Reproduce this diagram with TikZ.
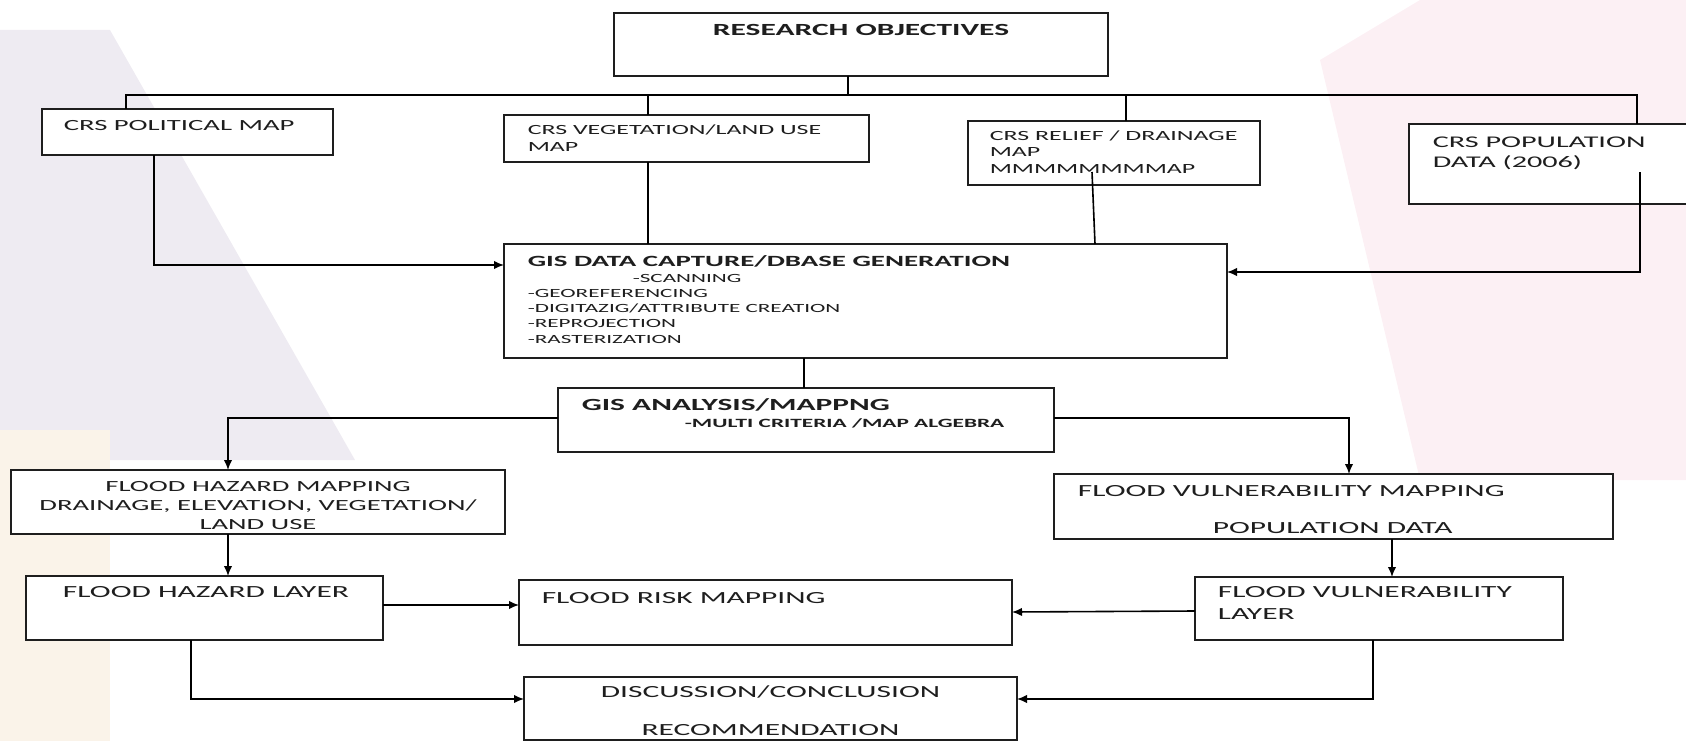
\documentclass[tikz,border=0pt]{standalone}
\usepackage{fontspec}
\usetikzlibrary{arrows.meta}
\setmainfont{Carlito}[FakeStretch=1.85]
\definecolor{ink}{RGB}{30,30,30}
\definecolor{haze}{RGB}{238,235,242}
\definecolor{blush}{RGB}{252,240,244}
\definecolor{sand}{RGB}{250,243,233}
\begin{document}
\begin{tikzpicture}[x=1pt,y=-1pt,line width=1.6pt,
  box/.style={draw=ink,fill=white,inner sep=0pt,outer sep=0pt},
  txt/.style={text=ink,inner sep=0pt,anchor=base west,align=left},
  head/.style={txt,font=\fontsize{17}{22}\selectfont},
  bold/.style={txt,font=\fontsize{17}{22}\selectfont\bfseries},
  body/.style={txt,font=\fontsize{15.5}{19}\selectfont},
  note/.style={txt,font=\fontsize{14}{16.5}\selectfont},
  item/.style={txt,font=\fontsize{12.5}{15.25}\selectfont},
  arr/.style={-{Latex[length=10pt,width=8.5pt]}}]

\clip (0,0) rectangle (1686,741);
\fill[haze] (0,30) -- (110,30) -- (355,460) -- (0,460) -- cycle;
\fill[blush] (1320,60) -- (1420,0) -- (1686,0) -- (1686,480) -- (1420,480) -- cycle;
\fill[sand] (0,430) -- (110,430) -- (110,741) -- (0,741) -- cycle;

\node[box,minimum width=494pt,minimum height=63pt] (res) at (861,44.5) {};
\node[bold,anchor=base] (res-t) at (861,35.5) {RESEARCH OBJECTIVES};

\node[box,minimum width=291pt,minimum height=46pt] (pol) at (187.5,132) {};
\node[body] (pol-t) at (63,131) {CRS POLITICAL MAP};
\node[box,minimum width=365pt,minimum height=47pt] (veg) at (686.5,138.5) {};
\node[note] (veg-t) at (527,151) {CRS VEGETATION/LAND USE\\MAP};
\node[box,minimum width=292pt,minimum height=64pt] (rel) at (1114,153) {};
\node[note] (rel-t) at (989,173.5) {CRS RELIEF / DRAINAGE\\MAP\\MMMMMMMMAP};
\node[box,minimum width=291pt,minimum height=80pt] (pop) at (1554.5,164) {};
\node[txt,font=\fontsize{16.3}{20}\selectfont] (pop-t) at (1432,167) {CRS POPULATION\\DATA (2006)};

\node[box,minimum width=723pt,minimum height=114pt] (gdc) at (865.5,301) {};
\node[txt,font=\fontsize{15.6}{18}\selectfont\bfseries] (gdc-t) at (527,266) {GIS DATA CAPTURE/DBASE GENERATION};
\node[item] (gdc-l) at (527,343) {\hspace*{105pt}-SCANNING\\-GEOREFERENCING\\-DIGITAZIG/ATTRIBUTE CREATION\\-REPROJECTION\\-RASTERIZATION};

\node[box,minimum width=496pt,minimum height=64pt] (gan) at (806,420) {};
\node[bold] (gan-t) at (581,410) {GIS ANALYSIS/MAPPNG};
\node[txt,font=\fontsize{12.6}{15}\selectfont\bfseries] (gan-s) at (684,427) {-MULTI CRITERIA /MAP ALGEBRA};

\node[box,minimum width=494pt,minimum height=64pt] (hzm) at (258,502) {};
\node[body,anchor=base,align=center] (hzm-t) at (258,529) {FLOOD HAZARD MAPPING\\DRAINAGE, ELEVATION, VEGETATION/\\LAND USE};
\node[box,minimum width=357pt,minimum height=64pt] (hzl) at (204.5,608) {};
\node[head,anchor=base] (hzl-t) at (206,597.5) {FLOOD HAZARD LAYER};
\node[box,minimum width=493pt,minimum height=65pt] (rsk) at (765.5,612.5) {};
\node[head] (rsk-t) at (541,603.5) {FLOOD RISK MAPPING};
\node[box,minimum width=559pt,minimum height=65pt] (vlm) at (1333.5,506.5) {};
\node[txt,font=\fontsize{17}{37}\selectfont] (vlm-t) at (1077,533.5) {FLOOD VULNERABILITY MAPPING\\\hspace*{135pt}POPULATION DATA};
\node[box,minimum width=368pt,minimum height=63pt] (vll) at (1379,608.5) {};
\node[head] (vll-t) at (1217,619.5) {FLOOD VULNERABILITY\\LAYER};
\node[box,minimum width=493pt,minimum height=63pt] (dis) at (770.5,708.5) {};
\node[txt,anchor=base,align=center,font=\fontsize{17}{38}\selectfont] (dis-t) at (770.5,735.5) {DISCUSSION/CONCLUSION\\RECOMMENDATION};

\coordinate (hub) at (848,95);
\coordinate (bl) at (126,95);
\coordinate (br) at (1637,95);
\coordinate (bv) at (648,95);
\coordinate (bd) at (1126,95);
\draw (hub |- res.south) -- (hub);
\draw (bl |- pol.north) -- (bl) -- (br) -- (br |- pop.north);
\draw (bv) -- (bv |- veg.north);
\draw (bd) -- (bd |- rel.north);

\draw[arr] (154,0 |- pol.south) |- (gdc.west |- 0,265);
\draw (648,0 |- veg.south) -- (648,0 |- gdc.north);
\draw ([shift={(-22,19)}]rel.center) -- (1095,0 |- gdc.north);
\draw[arr] ([shift={(85.5,8)}]pop.center) |- (gdc.east |- 0,272);
\draw (804,0 |- gdc.south) -- (804,0 |- gan.north);
\draw[arr] (gan.west |- 0,418) -| (228,0 |- hzm.north);
\draw[arr] (gan.east |- 0,418) -| (1349,0 |- vlm.north);
\draw[arr] (228,0 |- hzm.south) -- (228,0 |- hzl.north);
\draw[arr] (hzl.east |- 0,605) -- (rsk.west |- 0,605);
\draw[arr] (1392,0 |- vlm.south) -- (1392,0 |- vll.north);
\draw[arr] (vll.west |- 0,611) -- (rsk.east |- 0,612);
\draw[arr] (191,0 |- hzl.south) |- (dis.west |- 0,699);
\draw[arr] (1373,0 |- vll.south) |- (dis.east |- 0,699);
\end{tikzpicture}
\end{document}
